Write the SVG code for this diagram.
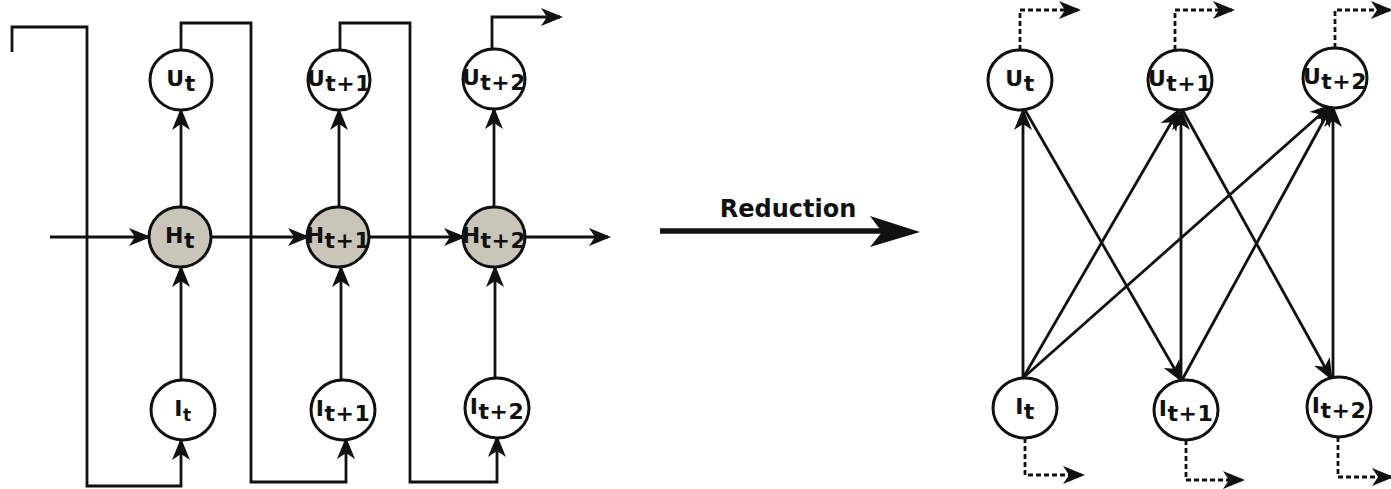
<svg xmlns="http://www.w3.org/2000/svg" width="1391" height="489" viewBox="0 0 1391 489">
<style>
.n{fill:#fff;stroke:#111;stroke-width:3}
.h{fill:#c9c5b8;stroke:#111;stroke-width:3}
.c{fill:none;stroke:#111;stroke-width:2.8;stroke-linejoin:miter}
.d{fill:none;stroke:#111;stroke-width:2.8;stroke-dasharray:5 3}
.a{marker-end:url(#ah)}
.lbl{font-family:"DejaVu Sans",sans-serif;font-weight:bold;font-size:22px;fill:#111;text-anchor:middle;letter-spacing:0.5px}
.sm{font-size:17px}
</style>
<defs>
<marker id="ah" markerUnits="userSpaceOnUse" viewBox="0 0 22 18" markerWidth="22" markerHeight="18" refX="19" refY="9" orient="auto">
<path d="M0,0 L22,9 L0,18 L6,9 Z" fill="#111"/>
</marker>
</defs>
<g id="connectors">
<path class="c a" d="M50,237 L148,237"/>
<path class="c a" d="M211,237 L307,237"/>
<path class="c a" d="M369,237 L463,237"/>
<path class="c a" d="M525,237 L608,237"/>
<path class="c a" d="M181,207 L181,111"/>
<path class="c a" d="M339,207 L339,111"/>
<path class="c a" d="M494,207 L494,110"/>
<path class="c a" d="M181,380 L181,268"/>
<path class="c a" d="M341,380 L341,268"/>
<path class="c a" d="M495,378 L495,268"/>
<path class="c a" d="M12,52 L12,27 L87,27 L87,486 L181,486 L181,441"/>
<path class="c a" d="M181,50 L181,23 L251,23 L251,482 L346,482 L346,440"/>
<path class="c a" d="M340,50 L340,23 L410,23 L410,482 L497,482 L497,438"/>
<path class="c a" d="M492,49 L492,17 L560,17"/>
<path class="c a" d="M1023,378 L1023,111"/>
<path class="c a" d="M1023,378 L1178,111"/>
<path class="c a" d="M1023,378 L1330,106"/>
<path class="c a" d="M1025,110 L1181,380"/>
<path class="c a" d="M1181,380 L1181,111"/>
<path class="c a" d="M1182,380 L1331,107"/>
<path class="c a" d="M1183,111 L1331,378"/>
<path class="c a" d="M1333,377 L1333,108"/>
<path class="d a" d="M1020,50 L1020,10 L1078,10"/>
<path class="d a" d="M1175,50 L1175,10 L1232,10"/>
<path class="d a" d="M1335,48 L1335,10 L1390,10"/>
<path class="d a" d="M1025,438 L1025,475 L1082,475"/>
<path class="d a" d="M1186,440 L1186,480 L1242,480"/>
<path class="d a" d="M1338,437 L1338,477 L1391,477"/>
</g>
<g id="reduction">
<path d="M660,231 L888,231" fill="none" stroke="#111" stroke-width="5.5"/>
<path d="M870,216 L920,232 L870,247 L882,232 Z" fill="#111"/>
<text x="788" y="217" style="font-family:'DejaVu Sans',sans-serif;font-weight:bold;font-size:24px;fill:#111;text-anchor:middle">Reduction</text>
</g>
<g id="L_Ut"><ellipse class="n" cx="181" cy="80" rx="31" ry="30"/><text class="lbl" x="181" y="86">U<tspan dy="5">t</tspan></text></g>
<g id="L_Ut1"><ellipse class="n" cx="339" cy="80" rx="31" ry="30"/><text class="lbl" x="339" y="86">U<tspan dy="5">t+1</tspan></text></g>
<g id="L_Ut2"><ellipse class="n" cx="494" cy="79" rx="31" ry="30"/><text class="lbl" x="494" y="85">U<tspan dy="5">t+2</tspan></text></g>
<g id="L_Ht"><ellipse class="h" cx="180" cy="237" rx="31" ry="30"/><text class="lbl" x="180" y="243">H<tspan dy="5">t</tspan></text></g>
<g id="L_Ht1"><ellipse class="h" cx="338" cy="237" rx="31" ry="30"/><text class="lbl" x="338" y="243">H<tspan dy="5">t+1</tspan></text></g>
<g id="L_Ht2"><ellipse class="h" cx="494" cy="237" rx="31" ry="30"/><text class="lbl" x="494" y="243">H<tspan dy="5">t+2</tspan></text></g>
<g id="L_It"><ellipse class="n" cx="183" cy="410" rx="32" ry="30"/><text class="lbl" x="183" y="416">I<tspan class="sm" dy="5">t</tspan></text></g>
<g id="L_It1"><ellipse class="n" cx="343" cy="410" rx="32" ry="30"/><text class="lbl" x="343" y="416">I<tspan dy="5">t+1</tspan></text></g>
<g id="L_It2"><ellipse class="n" cx="497" cy="408" rx="32" ry="30"/><text class="lbl" x="497" y="414">I<tspan dy="5">t+2</tspan></text></g>
<g id="R_Ut"><ellipse class="n" cx="1020" cy="80" rx="32" ry="30"/><text class="lbl" x="1020" y="86">U<tspan dy="5">t</tspan></text></g>
<g id="R_Ut1"><ellipse class="n" cx="1180" cy="80" rx="32" ry="30"/><text class="lbl" x="1180" y="86">U<tspan dy="5">t+1</tspan></text></g>
<g id="R_Ut2"><ellipse class="n" cx="1335" cy="78" rx="32" ry="30"/><text class="lbl" x="1335" y="84">U<tspan dy="5">t+2</tspan></text></g>
<g id="R_It"><ellipse class="n" cx="1025" cy="408" rx="32" ry="30"/><text class="lbl" x="1025" y="414">I<tspan dy="5">t</tspan></text></g>
<g id="R_It1"><ellipse class="n" cx="1186" cy="410" rx="32" ry="30"/><text class="lbl" x="1186" y="416">I<tspan dy="5">t+1</tspan></text></g>
<g id="R_It2"><ellipse class="n" cx="1339" cy="407" rx="32" ry="30"/><text class="lbl" x="1339" y="413">I<tspan dy="5">t+2</tspan></text></g>
</svg>
